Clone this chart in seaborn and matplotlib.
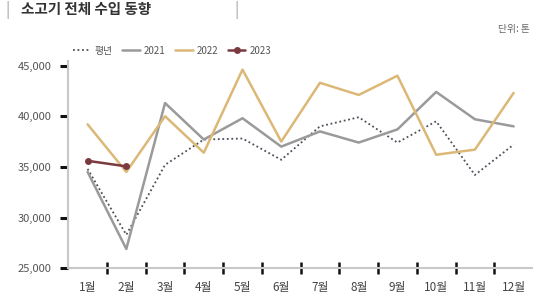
import matplotlib
matplotlib.use("Agg")
import matplotlib.pyplot as plt
import seaborn as sns
import pandas as pd
from matplotlib.ticker import FixedLocator, FuncFormatter

# data (tons)
months = ['1월', '2월', '3월', '4월', '5월', '6월', '7월', '8월', '9월', '10월', '11월', '12월']
avg_vals = [34800, 28300, 35200, 37700, 37800, 35700, 39000, 39900, 37400, 39500, 34200, 37200]
y2021 = [34500, 26900, 41300, 37700, 39800, 37000, 38500, 37400, 38700, 42400, 39700, 39000]
y2022 = [39200, 34500, 40000, 36400, 44600, 37500, 43300, 42100, 44000, 36200, 36700, 42300]
y2023 = [35600, 35050]

sns.set_theme(style="white")
plt.rcParams['font.family'] = ['Noto Sans CJK KR', 'DejaVu Sans']

fig = plt.figure(figsize=(5.33, 3.01), dpi=100)
ax = fig.add_axes([0.128, 0.109, 0.872, 0.69])

x = list(range(len(months)))
sns.lineplot(x=x, y=avg_vals, ax=ax, color='#4a4f5a', lw=1.3, linestyle=(0, (1, 1.5)), label='평년')
sns.lineplot(x=x, y=y2021, ax=ax, color='#9a9a9a', lw=1.8, label='2021')
sns.lineplot(x=x, y=y2022, ax=ax, color='#dcb877', lw=1.8, label='2022')
sns.lineplot(x=x[:len(y2023)], y=y2023, ax=ax, color='#7a3a40', lw=1.8,
             marker='o', markersize=5, markeredgewidth=0, label='2023')

ax.set_xlim(-0.5, 11.5)
ax.set_ylim(25000, 45500)
ax.set_yticks([25000, 30000, 35000, 40000, 45000])
ax.yaxis.set_major_formatter(FuncFormatter(lambda v, p: f'{int(v):,}'))
ax.set_xticks(x)
ax.set_xticklabels(months)
ax.xaxis.set_minor_locator(FixedLocator([i + 0.5 for i in range(11)]))

for s in ['top', 'right']:
    ax.spines[s].set_visible(False)
for s in ['left', 'bottom']:
    ax.spines[s].set_color('#c8c8c8')
    ax.spines[s].set_linewidth(1.5)

ax.tick_params(axis='y', which='major', length=6, width=2.2, color='#111111',
               direction='out', labelsize=8, labelcolor='#555555', pad=6, left=True)
ax.tick_params(axis='x', which='major', length=0, labelsize=8.5, labelcolor='#444444', pad=9)
ax.tick_params(axis='x', which='minor', length=8, width=1.8, color='#111111',
               direction='inout', bottom=True)
ax.grid(False)

leg = ax.legend(loc='lower left', bbox_to_anchor=(0.0, 1.0), ncol=4, frameon=False,
                fontsize=7, handlelength=1.8, handletextpad=0.4, columnspacing=1.0,
                borderaxespad=0.1)
for t in leg.get_texts():
    t.set_color('#555555')

# title and unit
fig.text(0.01, 0.997, '|', fontsize=10.5, color='#bbbbbb', va='top', fontweight='bold')
fig.text(0.04, 0.997, '소고기 전체 수입 동향', fontsize=10.5, color='#333333', va='top',
         fontweight='bold')
fig.text(0.44, 0.997, '|', fontsize=10.5, color='#bbbbbb', va='top', fontweight='bold')
fig.text(0.995, 0.905, '단위: 톤', fontsize=7, color='#666666', ha='right', va='center')

fig.savefig('out.png', dpi=100)
